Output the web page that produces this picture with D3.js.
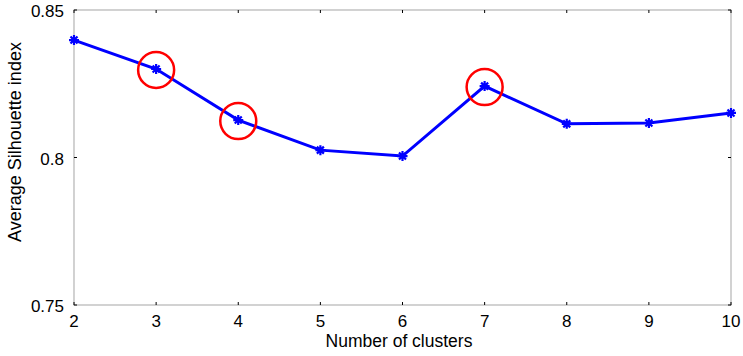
<!DOCTYPE html>
<html><head><meta charset="utf-8">
<script src="https://cdn.jsdelivr.net/npm/d3@7"></script>
<style>body{margin:0;background:#fff}svg{display:block}text{font-family:"Liberation Sans",Arial,sans-serif;fill:#000}</style>
</head><body><svg id="c" width="743" height="356"></svg>
<script>
const clusters=[2,3,4,5,6,7,8,9,10];
const silhouette=[0.8398,0.8300,0.8127,0.8025,0.8005,0.8242,0.8114,0.8117,0.8151];
const highlighted=[3,4,7];
const yTicks=[0.75,0.8,0.85];
const xTicks=[2,3,4,5,6,7,8,9,10];

const svg=d3.select("#c");
const m={l:74,r:12,t:10,b:51};
const W=743,H=356;
const x=d3.scaleLinear().domain([2,10]).range([m.l,W-m.r]);
const y=d3.scaleLinear().domain([0.75,0.85]).range([H-m.b,m.t]);

// box
svg.append("rect").attr("x",x(2)).attr("y",y(0.85)).attr("width",x(10)-x(2)).attr("height",y(0.75)-y(0.85))
  .attr("fill","none").attr("stroke","#b4b4b4").attr("stroke-width",1.2);

// ticks inward
const tl=3;
const g=svg.append("g").attr("stroke","#000").attr("stroke-width",1);
xTicks.forEach(v=>{
  g.append("line").attr("x1",x(v)).attr("x2",x(v)).attr("y1",y(0.75)).attr("y2",y(0.75)-tl);
  g.append("line").attr("x1",x(v)).attr("x2",x(v)).attr("y1",y(0.85)).attr("y2",y(0.85)+tl);
});
yTicks.forEach(v=>{
  g.append("line").attr("x1",x(2)).attr("x2",x(2)+tl).attr("y1",y(v)).attr("y2",y(v));
  g.append("line").attr("x1",x(10)).attr("x2",x(10)-tl).attr("y1",y(v)).attr("y2",y(v));
});

// tick labels
svg.append("g").selectAll("text").data(xTicks).join("text")
  .attr("x",d=>x(d)).attr("y",y(0.75)+22).attr("text-anchor","middle").attr("font-size",17).text(d=>d);
svg.append("g").selectAll("text").data(yTicks).join("text")
  .attr("x",x(2)-10).attr("y",d=>y(d)+7).attr("text-anchor","end").attr("font-size",17).text(d=>d===0.8?"0.8":d);

// axis labels
svg.append("text").attr("x",399).attr("y",347).attr("text-anchor","middle").attr("font-size",17.5).text("Number of clusters");
svg.append("text").attr("transform",`translate(21,142) rotate(-90)`).attr("text-anchor","middle").attr("font-size",18).text("Average Silhouette index");

// line
const data=clusters.map((c,i)=>({c,v:silhouette[i]}));
svg.append("path").datum(data).attr("fill","none").attr("stroke","#0000ff").attr("stroke-width",3)
  .attr("d",d3.line().x(d=>x(d.c)).y(d=>y(d.v)));

// star markers
const s=5;
const mk=svg.append("g").attr("stroke","#0000ff").attr("stroke-width",2.2);
data.forEach(d=>{
  const cx=x(d.c),cy=y(d.v);
  mk.append("path").attr("d",`M${cx-s},${cy}H${cx+s}M${cx},${cy-s}V${cy+s}M${cx-s*0.7},${cy-s*0.7}L${cx+s*0.7},${cy+s*0.7}M${cx-s*0.7},${cy+s*0.7}L${cx+s*0.7},${cy-s*0.7}`);
});

// red circles
svg.append("g").selectAll("circle").data(data.filter(d=>highlighted.includes(d.c))).join("circle")
  .attr("cx",d=>x(d.c)).attr("cy",d=>y(d.v)+1).attr("r",18).attr("fill","none").attr("stroke","#ff0000").attr("stroke-width",2.5);
</script></body></html>
